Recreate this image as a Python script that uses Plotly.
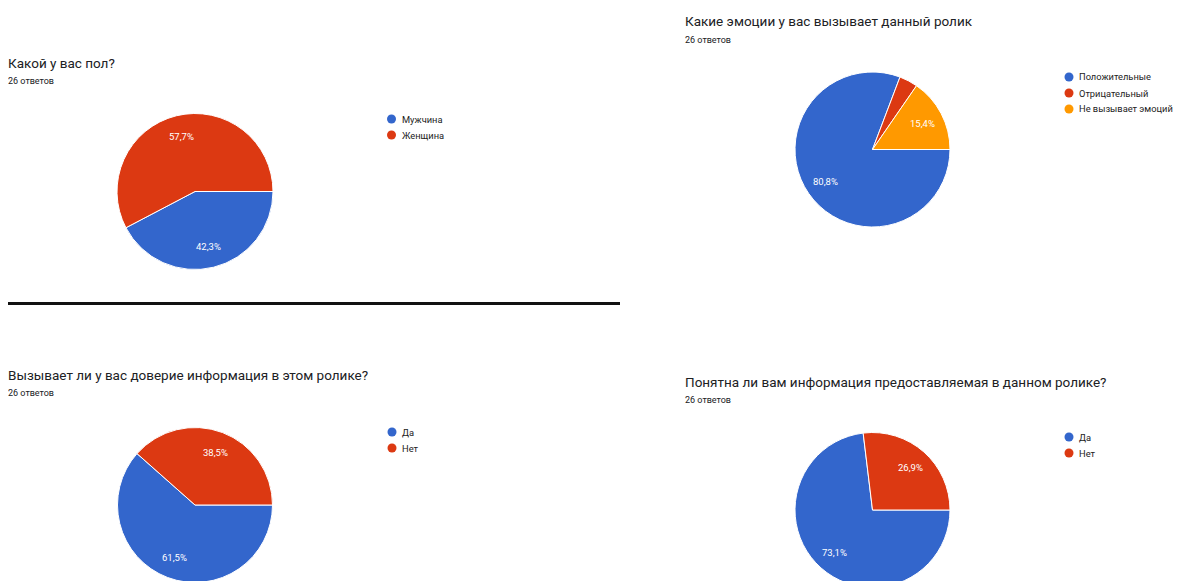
import math
import plotly.graph_objects as go

# page body has an 8px margin, so the figure starts at (8, 8) in the window
OFF = 8
W, H = 1181 - OFF, 588 - OFF

BLUE = "#3366CC"
RED = "#DC3912"
ORANGE = "#FF9900"

# --- data ---
gender_labels = ["Мужчина", "Женщина"]
gender_counts = [11, 15]

emotion_labels = ["Положительные", "Отрицательный", "Не вызывает эмоций"]
emotion_counts = [21, 1, 4]

trust_labels = ["Да", "Нет"]
trust_counts = [16, 10]

clear_labels = ["Да", "Нет"]
clear_counts = [19, 7]

answers_note = "26 ответов"


def px(x, y):
    # window pixel -> paper coords
    return (x - OFF) / W, 1 - (y - OFF) / H


def domain(cx, cy, r):
    x0, y1 = px(cx - r, cy - r)
    x1, y0 = px(cx + r, cy + r)
    return dict(x=[max(0, x0), min(1, x1)], y=[max(0, y0), min(1, y1)])


charts = [
    dict(title="Какой у вас пол?", labels=gender_labels, values=gender_counts,
         colors=[BLUE, RED], center=(195, 191.5, 78), title_pos=(6, 63),
         legend_pos=(391.5, 119)),
    dict(title="Какие эмоции у вас вызывает данный ролик", labels=emotion_labels,
         values=emotion_counts, colors=[BLUE, RED, ORANGE], center=(872.5, 149.5, 77.5),
         title_pos=(683, 21.5), legend_pos=(1069, 77)),
    dict(title="Вызывает ли у вас доверие информация в этом ролике?", labels=trust_labels,
         values=trust_counts, colors=[BLUE, RED], center=(195, 505, 77.5),
         title_pos=(6, 375), legend_pos=(392, 432)),
    dict(title="Понятна ли вам информация предоставляемая в данном ролике?", labels=clear_labels,
         values=clear_counts, colors=[BLUE, RED], center=(872.5, 510, 77.5),
         title_pos=(683, 381.5), legend_pos=(1069, 437)),
]

fig = go.Figure()
annotations = []
shapes = []

for ch in charts:
    cx, cy, r = ch["center"]
    fig.add_trace(go.Pie(
        labels=ch["labels"],
        values=ch["values"],
        sort=False,
        direction="clockwise",
        rotation=90,
        marker=dict(colors=ch["colors"], line=dict(color="white", width=1)),
        textinfo="none",
        domain=domain(cx, cy, r),
        showlegend=False,
        hoverinfo="skip",
    ))

    # percentage labels, Google-forms style: on the mid angle at ~0.73 r
    total = sum(ch["values"])
    cum = 0
    for v in ch["values"]:
        frac = v / total
        mid = (cum + frac / 2) * 2 * math.pi
        cum += frac
        if frac < 0.05:
            continue
        lx = cx + 0.73 * r * math.cos(mid)
        ly = cy + 0.73 * r * math.sin(mid)
        x, y = px(lx, ly)
        annotations.append(dict(
            text=f"{frac * 100:.1f}%".replace(".", ","), x=x, y=y,
            xref="paper", yref="paper", xanchor="center", yanchor="middle",
            showarrow=False, font=dict(family="Roboto", size=9.5, color="white"),
        ))

    tx, ty = ch["title_pos"]
    x, y = px(tx, ty)
    annotations.append(dict(
        text=ch["title"], x=x, y=y, xref="paper", yref="paper",
        xanchor="left", yanchor="middle", showarrow=False,
        font=dict(family="Roboto", size=13.5, color="#202124"),
    ))
    x, y = px(tx, ty + 18)
    annotations.append(dict(
        text=answers_note, x=x, y=y, xref="paper", yref="paper",
        xanchor="left", yanchor="middle", showarrow=False,
        font=dict(family="Roboto", size=9, color="#202124"),
    ))

    lx, ly = ch["legend_pos"]
    for i, (lab, col) in enumerate(zip(ch["labels"], ch["colors"])):
        ccy = ly + i * 16
        x0, y1 = px(lx - 4.5, ccy - 4.5)
        x1, y0 = px(lx + 4.5, ccy + 4.5)
        shapes.append(dict(type="circle", xref="paper", yref="paper",
                           x0=x0, y0=y0, x1=x1, y1=y1,
                           fillcolor=col, line=dict(width=0)))
        x, y = px(lx + 8, ccy)
        annotations.append(dict(
            text=lab, x=x, y=y, xref="paper", yref="paper",
            xanchor="left", yanchor="middle", showarrow=False,
            font=dict(family="Roboto", size=9.3, color="#222222"),
        ))

# separator line
x0, y0 = px(0, 303.5)
x1, _ = px(620, 303.5)
shapes.append(dict(type="line", xref="paper", yref="paper", x0=x0, y0=y0, x1=x1, y1=y0,
                   line=dict(color="#111111", width=3)))

fig.update_layout(
    width=W,
    height=H,
    margin=dict(l=0, r=0, t=0, b=0),
    paper_bgcolor="white",
    plot_bgcolor="white",
    annotations=annotations,
    shapes=shapes,
)

fig.write_html("out.html")
